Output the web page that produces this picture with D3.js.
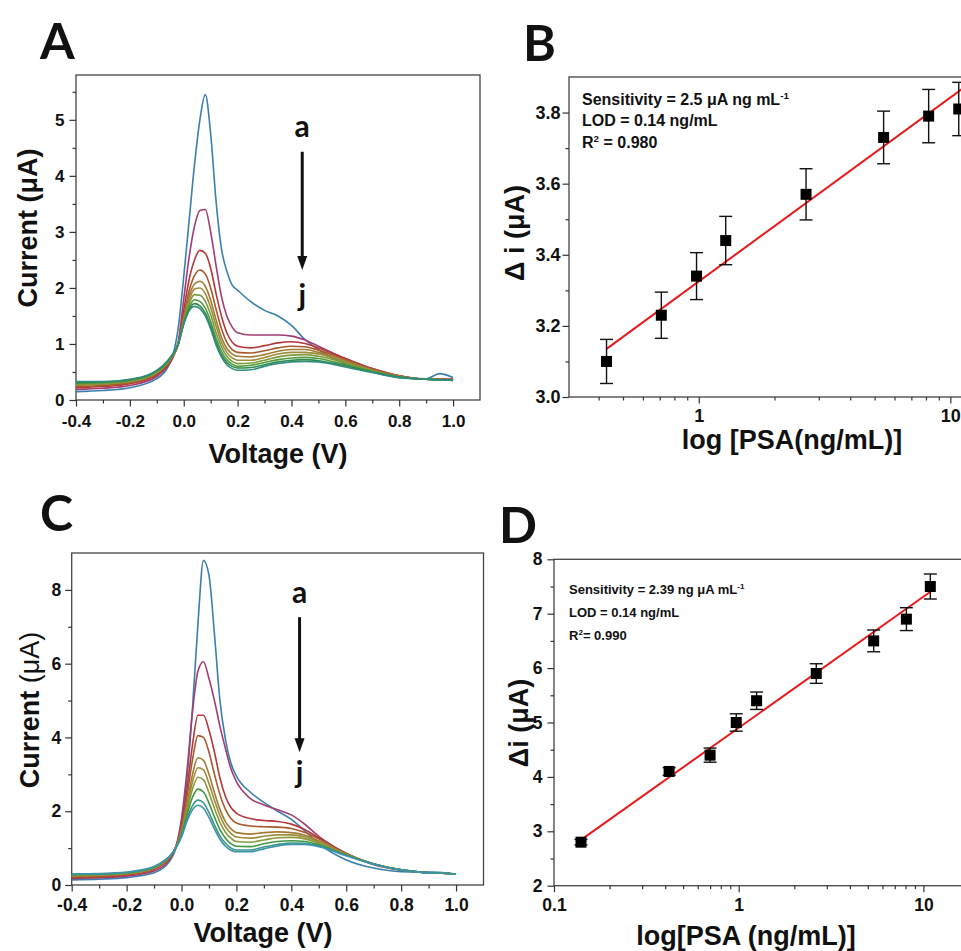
<!DOCTYPE html>
<html>
  <head>
    <meta charset="utf-8">
    <script src="https://cdn.jsdelivr.net/npm/d3@7"></script>
    <style>
      html, body {
        margin: 0;
        padding: 0;
        background: #fff;
      }
      svg text {
        font-family: 'Liberation Sans', Arial, sans-serif;
        font-weight: bold;
        fill: #111;
      }
      svg text.letter {
        font-family: Lato, 'Open Sans', sans-serif;
        font-weight: 700;
      }
    </style>
  </head>
  <body>
    <svg id="chart" width="961" height="951"></svg>
    <script>
      // ---- data ----
      // potential grid shared by every DPV trace (V)
      const voltage = [-0.4, -0.3, -0.2, -0.1, -0.06, -0.04, -0.02, 0, 0.02, 0.04, 0.06, 0.08, 0.1, 0.12, 0.14,
        0.16, 0.18, 0.2, 0.25, 0.3, 0.35, 0.4, 0.45, 0.5, 0.6, 0.7, 0.8, 0.9, 0.95, 1.0];

      const traceNames = ["a", "b", "c", "d", "e", "f", "g", "h", "i", "j"];
      const traceColors = ["#3b7fae", "#a23c72", "#b5373a", "#a8592c", "#a27a34",
        "#9c8c3c", "#7f9a3a", "#4e9a3c", "#2f8a4a", "#2e8c80"];
      const traceColorsC = ["#3b7fae", "#a23c72", "#b5373a", "#a8592c", "#a27a34",
        "#9c8c3c", "#8a9a3a", "#3f963c", "#3a958a", "#3d93a8"];

      // panel A currents (uA), one row per trace a..j
      const currentA = [
        [0.15,0.17,0.22,0.38,0.58,0.8,1.3,2.2,3.2,4.2,5.0,5.45,4.75,3.55,2.7,2.3,2.05,1.96,1.75,1.6,1.5,1.33,1.08,0.9,0.64,0.5,0.4,0.38,0.47,0.4],
        [0.19,0.21,0.26,0.42,0.6,0.76,1.05,1.8,2.55,3.1,3.38,3.4,3.0,2.4,1.85,1.5,1.3,1.2,1.16,1.16,1.16,1.14,1.07,0.96,0.74,0.56,0.43,0.37,0.37,0.37],
        [0.22,0.24,0.29,0.45,0.62,0.77,1.02,1.6,2.15,2.5,2.67,2.62,2.35,1.9,1.5,1.2,1.03,0.96,0.93,0.97,1.02,1.04,1.01,0.93,0.74,0.56,0.43,0.37,0.37,0.37],
        [0.24,0.26,0.31,0.47,0.64,0.78,1.0,1.5,1.95,2.22,2.32,2.25,2.0,1.62,1.27,1.03,0.9,0.85,0.84,0.88,0.93,0.96,0.95,0.89,0.72,0.55,0.43,0.37,0.37,0.37],
        [0.26,0.28,0.32,0.48,0.65,0.79,1.0,1.45,1.85,2.07,2.12,2.03,1.78,1.43,1.12,0.92,0.82,0.78,0.77,0.81,0.87,0.9,0.9,0.85,0.7,0.54,0.42,0.37,0.37,0.36],
        [0.27,0.29,0.33,0.49,0.66,0.8,1.0,1.42,1.78,1.98,2.0,1.9,1.65,1.32,1.03,0.85,0.75,0.71,0.71,0.76,0.82,0.85,0.85,0.82,0.68,0.53,0.42,0.37,0.36,0.36],
        [0.28,0.3,0.34,0.5,0.67,0.8,1.0,1.4,1.72,1.88,1.87,1.76,1.52,1.2,0.95,0.78,0.69,0.65,0.66,0.71,0.77,0.8,0.81,0.78,0.66,0.52,0.41,0.37,0.36,0.36],
        [0.3,0.31,0.35,0.51,0.68,0.81,1.0,1.38,1.66,1.79,1.76,1.64,1.4,1.1,0.87,0.72,0.64,0.6,0.62,0.67,0.72,0.75,0.76,0.74,0.63,0.51,0.41,0.37,0.36,0.36],
        [0.31,0.32,0.36,0.52,0.69,0.82,1.0,1.36,1.62,1.72,1.68,1.55,1.32,1.03,0.81,0.67,0.6,0.57,0.58,0.63,0.68,0.71,0.72,0.7,0.61,0.5,0.41,0.37,0.36,0.35],
        [0.33,0.33,0.37,0.53,0.7,0.83,1.01,1.35,1.59,1.67,1.63,1.5,1.27,0.98,0.77,0.63,0.56,0.53,0.54,0.6,0.65,0.68,0.69,0.68,0.59,0.49,0.4,0.37,0.36,0.35]
      ];

      // panel C currents (uA)
      const currentC = [
        [0.14,0.16,0.2,0.33,0.5,0.68,1.0,1.7,2.9,4.8,7.1,8.8,8.4,6.8,5.0,3.95,3.3,2.95,2.52,2.24,2.0,1.78,1.46,1.12,0.68,0.46,0.36,0.35,0.34,0.3],
        [0.18,0.2,0.24,0.38,0.55,0.72,1.05,1.8,3.1,4.7,5.8,6.05,5.6,5.0,4.3,3.7,3.15,2.8,2.35,2.17,2.04,1.9,1.64,1.32,0.86,0.55,0.4,0.33,0.32,0.3],
        [0.2,0.22,0.27,0.42,0.6,0.76,1.05,1.6,2.6,3.8,4.6,4.6,4.2,3.6,2.9,2.4,2.1,1.95,1.8,1.75,1.72,1.65,1.5,1.28,0.85,0.57,0.41,0.33,0.32,0.3],
        [0.22,0.24,0.29,0.44,0.62,0.77,1.04,1.55,2.4,3.4,4.05,4.0,3.6,3.0,2.45,2.05,1.8,1.68,1.6,1.58,1.57,1.53,1.42,1.25,0.85,0.57,0.41,0.33,0.32,0.3],
        [0.24,0.26,0.3,0.45,0.63,0.78,1.03,1.5,2.2,3.0,3.45,3.38,3.0,2.5,2.05,1.72,1.52,1.42,1.38,1.42,1.44,1.42,1.35,1.2,0.84,0.57,0.41,0.33,0.32,0.3],
        [0.25,0.27,0.31,0.46,0.64,0.79,1.03,1.45,2.1,2.8,3.18,3.12,2.75,2.3,1.88,1.58,1.4,1.3,1.27,1.32,1.36,1.36,1.3,1.17,0.83,0.57,0.41,0.33,0.32,0.3],
        [0.26,0.28,0.32,0.47,0.65,0.79,1.02,1.42,2.0,2.6,2.92,2.85,2.5,2.08,1.7,1.43,1.27,1.18,1.16,1.22,1.28,1.29,1.25,1.13,0.82,0.57,0.41,0.33,0.32,0.3],
        [0.28,0.29,0.33,0.48,0.66,0.8,1.02,1.38,1.9,2.38,2.6,2.52,2.22,1.84,1.5,1.27,1.12,1.05,1.04,1.12,1.18,1.2,1.18,1.09,0.81,0.57,0.41,0.33,0.32,0.3],
        [0.29,0.3,0.34,0.49,0.67,0.8,1.01,1.33,1.8,2.15,2.3,2.23,1.96,1.63,1.33,1.13,1.0,0.95,0.95,1.03,1.1,1.14,1.13,1.06,0.8,0.57,0.41,0.33,0.32,0.3],
        [0.3,0.31,0.35,0.5,0.68,0.81,1.01,1.3,1.73,2.04,2.16,2.08,1.83,1.52,1.24,1.05,0.94,0.9,0.9,0.98,1.06,1.1,1.1,1.04,0.79,0.56,0.41,0.33,0.32,0.3]
      ];

      // calibration B
      const psaB = [0.43, 0.71, 0.98, 1.28, 2.67, 5.43, 8.2, 10.8];
      const deltaB = [3.10, 3.23, 3.34, 3.44, 3.57, 3.73, 3.79, 3.81];
      const errB = [0.062, 0.065, 0.066, 0.068, 0.072, 0.074, 0.075, 0.075];
      const fitB = [3.325, 0.517];     // intercept, slope per decade
      const fitRangeB = [0.43, 13];

      // calibration D
      const psaD = [0.14, 0.42, 0.70, 0.97, 1.25, 2.63, 5.38, 8.09, 10.9];
      const deltaD = [2.8, 4.1, 4.4, 5.0, 5.4, 5.9, 6.5, 6.9, 7.5];
      const errD = [0.05, 0.07, 0.13, 0.16, 0.16, 0.18, 0.2, 0.21, 0.23];
      const fitD = [4.902, 2.411];
      const fitRangeD = [0.14, 11];

      // tick values
      const voltTicks = [-0.4, -0.2, 0.0, 0.2, 0.4, 0.6, 0.8, 1.0];
      const currentTicksA = [0, 1, 2, 3, 4, 5];
      const currentTicksC = [0, 2, 4, 6, 8];
      const deltaTicksB = [3.0, 3.2, 3.4, 3.6, 3.8];
      const deltaTicksD = [2, 3, 4, 5, 6, 7, 8];
      const logTicksB = [1, 10];
      const logTicksD = [0.1, 1, 10];
      const logMinor = [0.2, 0.3, 0.4, 0.5, 0.6, 0.7, 0.8, 0.9, 2, 3, 4, 5, 6, 7, 8, 9];

      const svg = d3.select("#chart");

      function frame(g, x, y) {
        const [x0, x1] = x.range(), [y0, y1] = y.range();
        g.append("rect")
          .attr("x", x0).attr("y", y1)
          .attr("width", x1 - x0).attr("height", y0 - y1)
          .attr("fill", "none").attr("stroke", "#444").attr("stroke-width", 1.3);
      }

      function axes(g, x, y, o) {
        const bottom = y.range()[0], left = x.range()[0];
        const gx = g.append("g").attr("transform", `translate(0,${bottom})`);
        gx.append("g").call(d3.axisBottom(x).tickValues(o.xMinor).tickSize(3.5).tickFormat(""));
        gx.append("g").call(d3.axisBottom(x).tickValues(o.xMajor).tickSize(6.5)
          .tickPadding(o.xPad).tickFormat(o.xFmt));
        const gy = g.append("g").attr("transform", `translate(${left},0)`);
        gy.append("g").call(d3.axisLeft(y).tickValues(o.yMinor).tickSize(3.5).tickFormat(""));
        gy.append("g").call(d3.axisLeft(y).tickValues(o.yMajor).tickSize(6.5)
          .tickPadding(o.yPad).tickFormat(o.yFmt));
        g.selectAll(".domain").remove();
        g.selectAll(".tick line").attr("stroke", "#333").attr("stroke-width", 1.2);
        gx.selectAll("g").attr("font-size", o.font);
        gy.selectAll("g").attr("font-size", o.font);
      }

      function title(g, txt, x, y, rot) {
        const t = g.append("text")
          .attr("text-anchor", "middle")
          .attr("font-size", 27)
          .attr("transform", rot ? `translate(${x},${y}) rotate(-90)` : `translate(${x},${y})`)
          .attr("dy", rot ? "0.36em" : 0);
        return t.text(txt);
      }

      // ---- DPV panels ----
      function dpvPanel(box, yMax, currents, colors, o) {
        const g = svg.append("g");
        const x = d3.scaleLinear().domain([-0.4, 1.1]).range([box.left, box.right]);
        const y = d3.scaleLinear().domain([0, yMax]).range([box.bottom, box.top]);
        frame(g, x, y);
        axes(g, x, y, {
          xMajor: voltTicks, xMinor: d3.range(-0.3, 1.05, 0.2), xFmt: d => d.toFixed(1), xPad: o.xPad,
          yMajor: o.yTicks, yMinor: o.yMinor, yFmt: d => d, yPad: o.yPad, font: o.font
        });
        const line = d3.line()
          .x((d, i) => x(voltage[i]))
          .y(d => y(d))
          .curve(d3.curveMonotoneX);
        g.append("g").selectAll("path")
          .data(currents)
          .join("path")
          .attr("d", line)
          .attr("fill", "none")
          .attr("stroke", (d, i) => colors[i])
          .attr("stroke-width", 1.6);

        // a -> j arrow
        const ax = x(o.arrow[0]);
        g.append("line")
          .attr("x1", ax).attr("x2", ax)
          .attr("y1", y(o.arrow[1])).attr("y2", y(o.arrow[2]) - 12)
          .attr("stroke", "#111").attr("stroke-width", 3);
        g.append("path")
          .attr("d", `M${ax - 5},${y(o.arrow[2]) - 14}L${ax + 5},${y(o.arrow[2]) - 14}L${ax},${y(o.arrow[2])}Z`)
          .attr("fill", "#111");
        g.append("text").attr("class", "letter")
          .attr("x", ax).attr("y", y(o.labelA)).attr("text-anchor", "middle")
          .attr("font-size", 30).text(traceNames[0]);
        g.append("text").attr("class", "letter")
          .attr("x", ax).attr("y", y(o.labelJ)).attr("text-anchor", "middle")
          .attr("font-size", 30).text(traceNames[9]);
        return g;
      }

      const gA = dpvPanel({left: 76, right: 480, top: 75, bottom: 400}, 5.8, currentA, traceColors, {
        yTicks: currentTicksA, yMinor: [0.5, 1.5, 2.5, 3.5, 4.5, 5.5], xPad: 8, yPad: 5, font: 17,
        arrow: [0.44, 4.43, 2.32], labelA: 4.7, labelJ: 1.67
      });
      title(gA, "Current (μA)", 27, 228, true);
      title(gA, "Voltage (V)", 278, 463, false);

      const gC = dpvPanel({left: 71.7, right: 483.5, top: 553, bottom: 885}, 9, currentC, traceColorsC, {
        yTicks: currentTicksC, yMinor: [1, 3, 5, 7], xPad: 7, yPad: 4, font: 17.5,
        arrow: [0.43, 7.26, 3.6], labelA: 7.64, labelJ: 2.76
      });
      const tC = title(gC, "Current ", 29, 710, true);
      tC.append("tspan").attr("font-weight", "normal").style("font-weight", "normal").text("(μA)");
      title(gC, "Voltage (V)", 263, 942, false);

      // ---- calibration panels ----
      function calPanel(box, xDom, yDom, psa, delta, err, fit, fitRange, o) {
        const g = svg.append("g");
        const x = d3.scaleLog().domain(xDom).range([box.left, box.right]);
        const y = d3.scaleLinear().domain(yDom).range([box.bottom, box.top]);
        frame(g, x, y);
        axes(g, x, y, {
          xMajor: o.xTicks, xMinor: logMinor.filter(v => v > xDom[0] && v < xDom[1]),
          xFmt: d => d, xPad: o.xPad,
          yMajor: o.yTicks, yMinor: o.yMinor, yFmt: o.yFmt, yPad: o.yPad, font: o.font
        });
        const fitLine = d3.line()
          .x(d => x(d))
          .y(d => y(fit[0] + fit[1] * Math.log10(d)));
        g.append("path")
          .datum(fitRange)
          .attr("d", fitLine)
          .attr("fill", "none").attr("stroke", "#e8191c").attr("stroke-width", 2);

        const pts = g.append("g").selectAll("g").data(psa).join("g");
        pts.append("line")
          .attr("x1", d => x(d)).attr("x2", d => x(d))
          .attr("y1", (d, i) => y(delta[i] - err[i])).attr("y2", (d, i) => y(delta[i] + err[i]))
          .attr("stroke", "#111").attr("stroke-width", 1.4);
        [1, -1].forEach(s => {
          pts.append("line")
            .attr("x1", d => x(d) - 6.5).attr("x2", d => x(d) + 6.5)
            .attr("y1", (d, i) => y(delta[i] + s * err[i])).attr("y2", (d, i) => y(delta[i] + s * err[i]))
            .attr("stroke", "#111").attr("stroke-width", 1.4);
        });
        pts.append("rect")
          .attr("x", d => x(d) - 5.5).attr("y", (d, i) => y(delta[i]) - 5.5)
          .attr("width", 11).attr("height", 11)
          .attr("fill", "#000");

        const ann = g.append("g").attr("font-size", o.annFont);
        o.ann.forEach((a, k) => {
          const t = ann.append("text").attr("x", o.annX).attr("y", o.annY[k]);
          t.append("tspan").text(a[0]);
          if (a[1]) {
            t.append("tspan").attr("font-size", o.annFont * 0.62).attr("dy", -o.annFont * 0.4).text(a[1]);
            if (a[2]) t.append("tspan").attr("dy", o.annFont * 0.4).text(a[2]);
          }
        });
        return g;
      }

      const gB = calPanel({left: 569, right: 979, top: 77, bottom: 397}, [0.305, 13], [3.0, 3.9],
        psaB, deltaB, errB, fitB, fitRangeB, {
          xTicks: logTicksB, yTicks: deltaTicksB, yMinor: [3.1, 3.3, 3.5, 3.7],
          yFmt: d => d.toFixed(1), xPad: 6, yPad: 2, font: 18,
          annFont: 16, annX: 582, annY: [105, 126, 148],
          ann: [["Sensitivity = 2.5 μA ng mL", "-1"], ["LOD = 0.14 ng/mL"], ["R", "2", " = 0.980"]]
        });
      title(gB, "Δ i (μA)", 514, 233, true);
      title(gB, "log [PSA(ng/mL)]", 792, 449, false);

      const gD = calPanel({left: 554, right: 979, top: 559.3, bottom: 885.7}, [0.1, 20], [2, 8],
        psaD, deltaD, errD, fitD, fitRangeD, {
          xTicks: logTicksD, yTicks: deltaTicksD, yMinor: [2.5, 3.5, 4.5, 5.5, 6.5, 7.5],
          yFmt: d => d, xPad: 6, yPad: 5, font: 17.5,
          annFont: 13, annX: 569, annY: [594, 617, 640],
          ann: [["Sensitivity =  2.39 ng μA mL", "-1"], ["LOD = 0.14 ng/mL"], ["R", "2", "= 0.990"]]
        });
      title(gD, "Δi (μA)", 518, 723, true);
      title(gD, "log[PSA (ng/mL)]", 746, 945, false);

      // panel letters
      const letters = [["A", 40, 59], ["B", 523, 61], ["C", 40, 531], ["D", 499, 543]];
      svg.append("g").selectAll("text")
        .data(letters)
        .join("text")
        .attr("class", "letter")
        .attr("x", d => d[1]).attr("y", d => d[2])
        .attr("font-size", 50)
        .text(d => d[0]);
    </script>
  </body>
</html>
